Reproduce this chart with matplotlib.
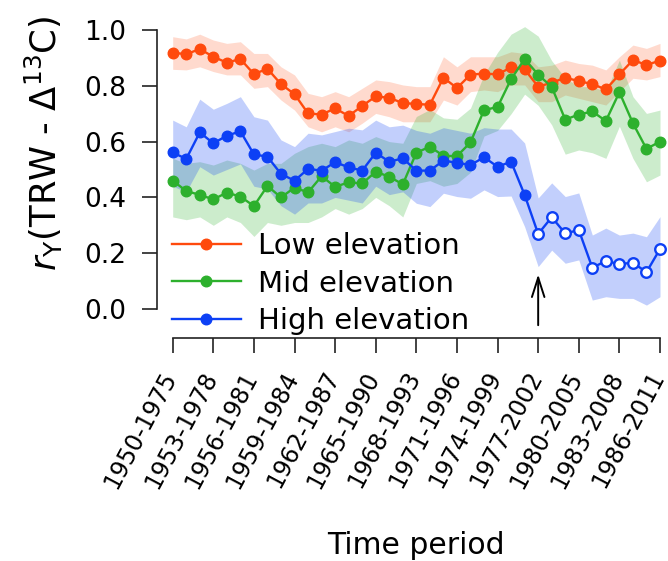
import matplotlib
matplotlib.use("Agg")
import matplotlib.pyplot as plt
import matplotlib.transforms as mtransforms
import numpy as np

# 26-year moving windows, 1950-1975 ... 1986-2011 (37 windows)
n_windows = 37
tick_labels = ["1950-1975", "1953-1978", "1956-1981", "1959-1984", "1962-1987",
               "1965-1990", "1968-1993", "1971-1996", "1974-1999", "1977-2002",
               "1980-2005", "1983-2008", "1986-2011"]

low = [0.919, 0.913, 0.932, 0.904, 0.883, 0.896, 0.842, 0.861, 0.806, 0.770,
       0.701, 0.697, 0.719, 0.692, 0.728, 0.762, 0.757, 0.738, 0.735, 0.732,
       0.829, 0.792, 0.840, 0.844, 0.841, 0.866, 0.859, 0.797, 0.811, 0.829,
       0.817, 0.806, 0.787, 0.841, 0.892, 0.875, 0.890]
low_hi = [0.976, 0.968, 0.985, 0.964, 0.952, 0.958, 0.916, 0.916, 0.868, 0.839,
          0.773, 0.761, 0.779, 0.761, 0.791, 0.821, 0.815, 0.803, 0.797, 0.797,
          0.904, 0.868, 0.904, 0.904, 0.904, 0.922, 0.916, 0.868, 0.874, 0.892,
          0.880, 0.874, 0.857, 0.904, 0.946, 0.934, 0.952]
low_lo = [0.859, 0.857, 0.868, 0.851, 0.839, 0.839, 0.791, 0.797, 0.749, 0.713,
          0.653, 0.635, 0.653, 0.635, 0.666, 0.701, 0.689, 0.671, 0.671, 0.671,
          0.749, 0.731, 0.779, 0.785, 0.779, 0.803, 0.803, 0.743, 0.743, 0.767,
          0.755, 0.743, 0.731, 0.779, 0.827, 0.821, 0.833]

mid = [0.460, 0.423, 0.409, 0.393, 0.417, 0.403, 0.369, 0.441, 0.400, 0.435,
       0.418, 0.476, 0.438, 0.454, 0.450, 0.492, 0.474, 0.447, 0.560, 0.582,
       0.549, 0.548, 0.597, 0.713, 0.724, 0.824, 0.896, 0.840, 0.796, 0.679,
       0.697, 0.708, 0.674, 0.777, 0.666, 0.574, 0.600]
mid_hi = [0.540, 0.522, 0.528, 0.516, 0.534, 0.522, 0.498, 0.522, 0.522, 0.558,
          0.582, 0.594, 0.582, 0.606, 0.594, 0.618, 0.600, 0.594, 0.690, 0.715,
          0.685, 0.680, 0.720, 0.840, 0.920, 0.985, 1.012, 0.978, 0.890, 0.828,
          0.797, 0.797, 0.779, 0.892, 0.761, 0.701, 0.713]
mid_lo = [0.330, 0.320, 0.330, 0.300, 0.330, 0.310, 0.260, 0.310, 0.300, 0.310,
          0.310, 0.330, 0.360, 0.340, 0.360, 0.400, 0.370, 0.330, 0.450, 0.460,
          0.440, 0.450, 0.490, 0.620, 0.640, 0.700, 0.770, 0.730, 0.660, 0.555,
          0.570, 0.560, 0.540, 0.655, 0.540, 0.456, 0.480]

high = [0.561, 0.538, 0.633, 0.594, 0.621, 0.637, 0.554, 0.546, 0.484, 0.460,
        0.502, 0.496, 0.526, 0.508, 0.496, 0.560, 0.528, 0.540, 0.496, 0.496,
        0.532, 0.524, 0.516, 0.544, 0.510, 0.528, 0.409, 0.269, 0.329, 0.271,
        0.283, 0.148, 0.172, 0.161, 0.166, 0.132, 0.215]
high_hi = [0.677, 0.653, 0.752, 0.716, 0.737, 0.761, 0.689, 0.677, 0.606, 0.582,
           0.630, 0.624, 0.636, 0.648, 0.642, 0.677, 0.653, 0.659, 0.640, 0.630,
           0.650, 0.640, 0.630, 0.650, 0.645, 0.645, 0.595, 0.398, 0.452, 0.403,
           0.416, 0.265, 0.290, 0.265, 0.272, 0.259, 0.331]
high_lo = [0.440, 0.420, 0.510, 0.480, 0.500, 0.520, 0.440, 0.430, 0.370, 0.340,
           0.380, 0.380, 0.400, 0.390, 0.380, 0.440, 0.410, 0.420, 0.379, 0.367,
           0.415, 0.403, 0.397, 0.427, 0.403, 0.405, 0.295, 0.152, 0.211, 0.164,
           0.176, 0.032, 0.044, 0.038, 0.038, 0.014, 0.044]
# windows with a non-significant high-elevation correlation (open symbols)
high_nonsig_from = 27
shift_window = 27

c_low, c_mid, c_high = "#FF4A0D", "#2DB02D", "#0D40F5"

W, H = 668, 561
fig = plt.figure(figsize=(W / 100, H / 100), dpi=100)
ax = fig.add_axes([157 / W, 1 - 338 / H, (W - 157) / W, (338 - 20) / H])

x = np.arange(n_windows)

for lo, hi, c, a in [(low_lo, low_hi, c_low, 0.2), (mid_lo, mid_hi, c_mid, 0.24),
                     (high_lo, high_hi, c_high, 0.25)]:
    ax.fill_between(x, lo, hi, color=c, alpha=a, lw=0)

ax.plot(x, low, "-o", color=c_low, lw=1.7, ms=7.6, label="Low elevation")
ax.plot(x, mid, "-o", color=c_mid, lw=1.7, ms=7.6, label="Mid elevation")
ax.plot(x, high, "-", color=c_high, lw=1.7)
k = high_nonsig_from
ax.plot(x[:k], high[:k], "o", color=c_high, ms=7.6)
ax.plot(x[k:], high[k:], "o", mfc="white", mec=c_high, mew=1.7, ms=7.6)
ax.plot([], [], "-o", color=c_high, lw=1.7, ms=7.6, label="High elevation")

ax.annotate("", xy=(shift_window, 0.134), xytext=(shift_window, -0.068),
            arrowprops=dict(arrowstyle="->,head_length=1.4,head_width=0.45",
                            mutation_scale=10, lw=1.4, color="black"))

px = (660 - 172.7) / 36
ax.set_xlim(-(172.7 - 157) / px, (668 - 172.7) / px)
ax.set_ylim((309 - 338) / 279, (309 - 20) / 279)

for s in ["top", "right"]:
    ax.spines[s].set_visible(False)
ax.spines["left"].set_bounds(0, 1)
ax.spines["bottom"].set_bounds(0, 36)
for s in ["left", "bottom"]:
    ax.spines[s].set_linewidth(1.2)
    ax.spines[s].set_color("#222222")

ax.set_yticks([0.0, 0.2, 0.4, 0.6, 0.8, 1.0])
ax.set_yticklabels(["0.0", "0.2", "0.4", "0.6", "0.8", "1.0"])
ax.set_xticks(np.arange(0, 37, 3))
ax.set_xticklabels(tick_labels)
ax.tick_params(axis="both", length=11, width=1.2, color="#222222")
ax.tick_params(axis="y", labelsize=19, pad=11)
ax.tick_params(axis="x", labelsize=17, pad=10)

offset = mtransforms.ScaledTranslation(-0.125, 0, fig.dpi_scale_trans)
for lab in ax.get_xticklabels():
    lab.set_rotation(62)
    lab.set_ha("right")
    lab.set_va("top")
    lab.set_rotation_mode("anchor")
    lab.set_transform(lab.get_transform() + offset)

ax.legend(loc="upper left", bbox_to_anchor=(172 / W, 1 - 232 / H),
          bbox_transform=fig.transFigure, frameon=False, fontsize=21,
          borderpad=0, borderaxespad=0, handlelength=2.35, handletextpad=0.6,
          labelspacing=0.33, numpoints=1)

fig.text(44 / W, 1 - 143 / H, r"$r_{\mathrm{Y}}$(TRW - $\Delta^{13}$C)",
         rotation=90, ha="center", va="center", fontsize=25.5)
fig.text(416 / W, 1 - 546 / H, "Time period", ha="center", va="center", fontsize=21.5)

fig.savefig("out.png", dpi=100)
